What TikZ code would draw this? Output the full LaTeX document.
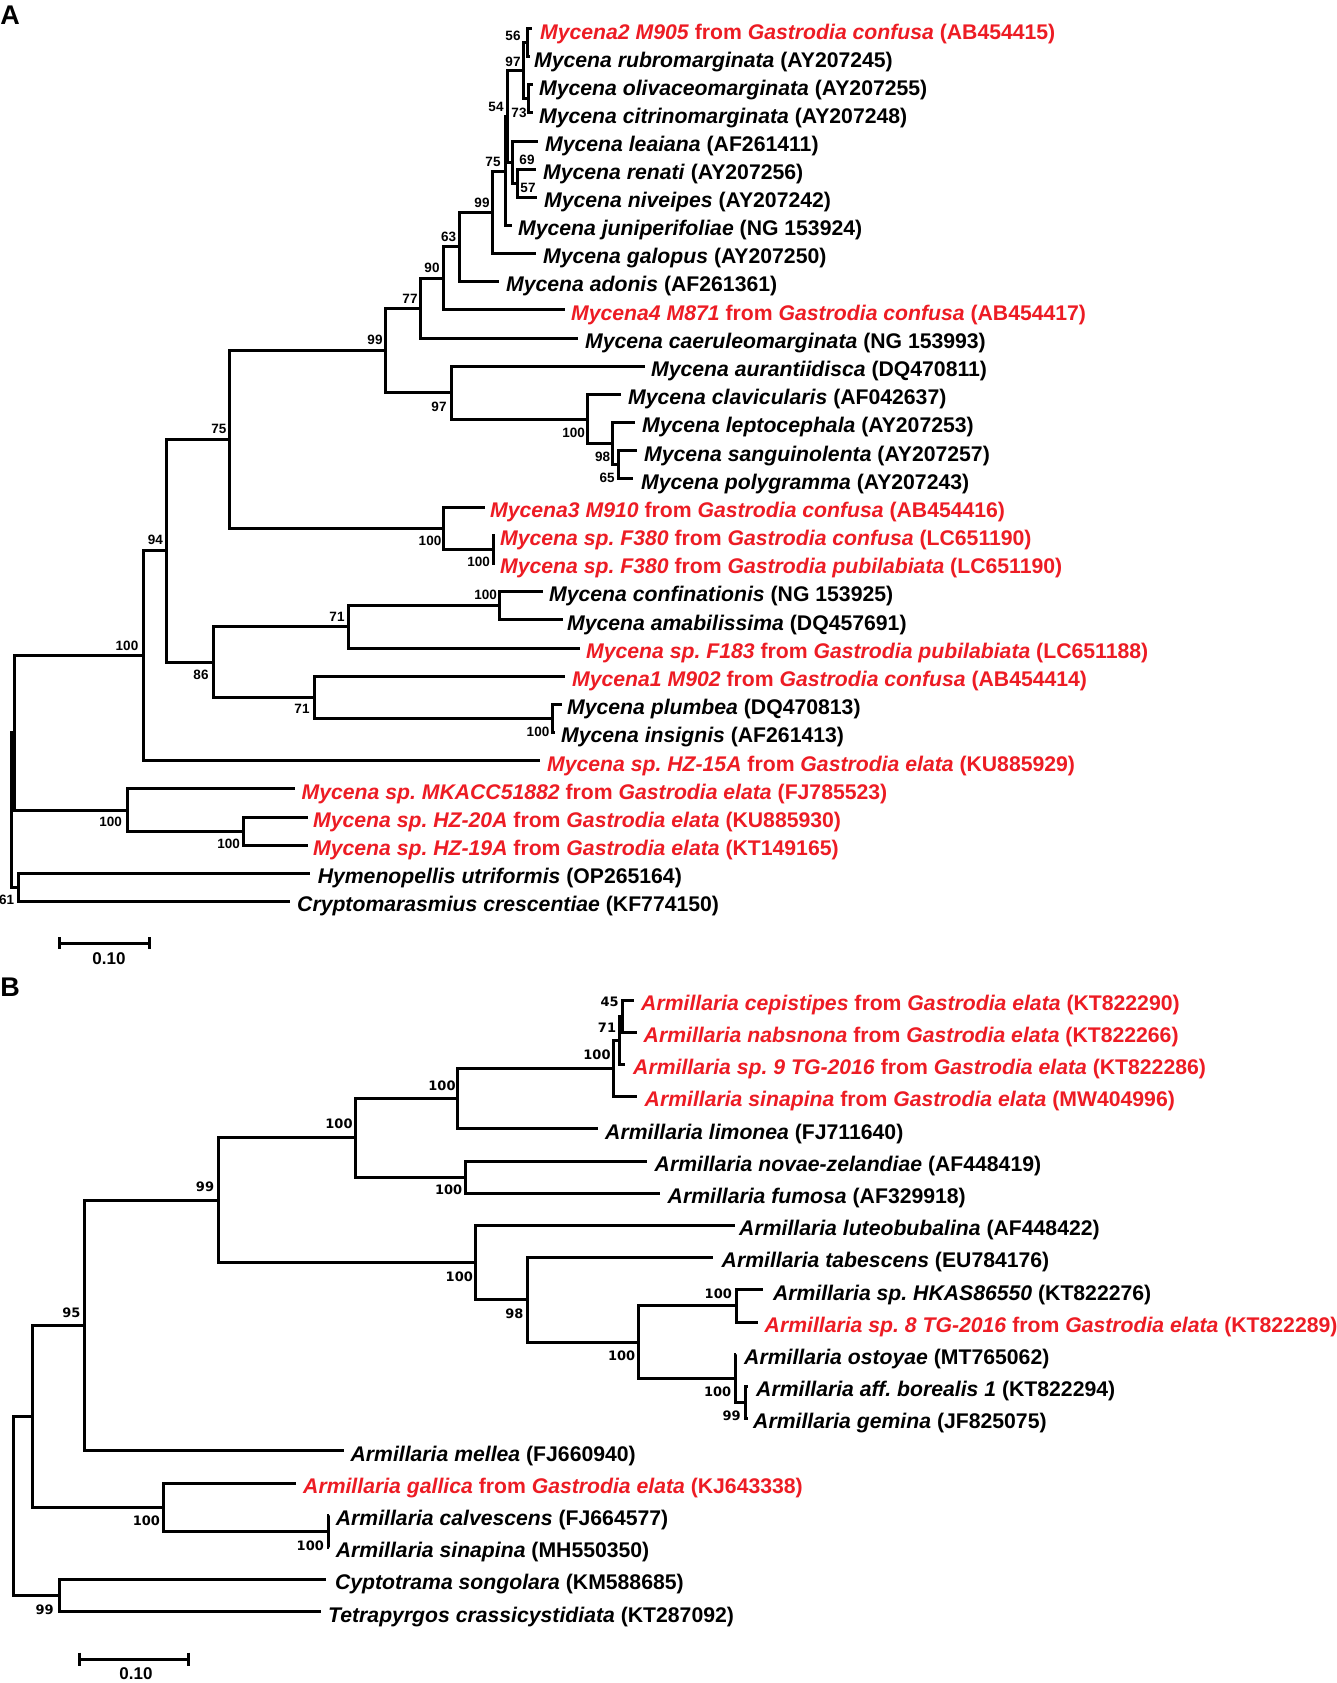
\documentclass[tikz,border=0pt]{standalone}
\usepackage{fontspec}
\setmainfont{Liberation Sans}
\newfontfamily\bsfont{DejaVu Sans}
\usetikzlibrary{calc}
\definecolor{tred}{RGB}{237,28,36}
% [style]{name}{tip x}{text x}{y}{text}
\newcommand\leaf[6][]{\coordinate (#2) at (#3,#5);\node[lbl,#1] (#2t) at (#4,#5+10.3) {#6};}
\newcommand\inode[3]{\coordinate (#1) at (#2,#3);}
\begin{document}
\begin{tikzpicture}[x=1pt,y=-1pt,
  br/.style={line width=3pt},
  lbl/.style={anchor=base west,inner sep=0pt,font=\fontsize{21.2}{25}\selectfont\bfseries},
  hl/.style={text=tred},
  bsa/.style={inner sep=0pt,font=\fontsize{13.5}{15}\selectfont\bfseries},
  bsb/.style={inner sep=0pt,font=\bsfont\fontsize{13}{15}\selectfont\bfseries},
  hdr/.style={inner sep=0pt,font=\fontsize{27}{30}\selectfont\bfseries},
  sclbl/.style={inner sep=0pt,font=\fontsize{17}{19}\selectfont\bfseries}]
\useasboundingbox (0,0) rectangle (1337,1683);
\fill[white] (0,0) rectangle (1337,1683);
\node[hdr] (hA) at (10,15) {A};
\node[hdr] (hB) at (10,987) {B};
% ---------------- Panel A leaves
\leaf[hl]{A1}{531.7}{540}{28.8}{\textit{Mycena2 M905} from \textit{Gastrodia confusa} (AB454415)}
\leaf{A2}{530}{534}{56.9}{\textit{Mycena rubromarginata} (AY207245)}
\leaf{A3}{533}{539}{85.0}{\textit{Mycena olivaceomarginata} (AY207255)}
\leaf{A4}{533}{539}{113.0}{\textit{Mycena citrinomarginata} (AY207248)}
\leaf{A5}{538.3}{545}{141.1}{\textit{Mycena leaiana} (AF261411)}
\leaf{A6}{536}{543}{169.2}{\textit{Mycena renati} (AY207256)}
\leaf{A7}{536.7}{544}{197.3}{\textit{Mycena niveipes} (AY207242)}
\leaf{A8}{511.7}{518}{225.4}{\textit{Mycena juniperifoliae} (NG 153924)}
\leaf{A9}{535.7}{543}{253.5}{\textit{Mycena galopus} (AY207250)}
\leaf{A10}{499}{506}{281.6}{\textit{Mycena adonis} (AF261361)}
\leaf[hl]{A11}{564.7}{571}{309.8}{\textit{Mycena4 M871} from \textit{Gastrodia confusa} (AB454417)}
\leaf{A12}{578}{585}{338.0}{\textit{Mycena caeruleomarginata} (NG 153993)}
\leaf{A13}{645}{651}{366.2}{\textit{Mycena aurantiidisca} (DQ470811)}
\leaf{A14}{621}{628}{394.3}{\textit{Mycena clavicularis} (AF042637)}
\leaf{A15}{635}{642}{422.5}{\textit{Mycena leptocephala} (AY207253)}
\leaf{A16}{637}{644}{450.7}{\textit{Mycena sanguinolenta} (AY207257)}
\leaf{A17}{633}{641}{478.9}{\textit{Mycena polygramma} (AY207243)}
\leaf[hl]{A18}{485}{490}{507.1}{\textit{Mycena3 M910} from \textit{Gastrodia confusa} (AB454416)}
\leaf[hl]{A19}{495}{500}{535.2}{\textit{Mycena sp.\ F380} from \textit{Gastrodia confusa} (LC651190)}
\leaf[hl]{A20}{495}{500}{563.4}{\textit{Mycena sp.\ F380} from \textit{Gastrodia pubilabiata} (LC651190)}
\leaf{A21}{543.3}{549}{591.6}{\textit{Mycena confinationis} (NG 153925)}
\leaf{A22}{563.3}{567}{619.8}{\textit{Mycena amabilissima} (DQ457691)}
\leaf[hl]{A23}{580}{586}{648.0}{\textit{Mycena sp.\ F183} from \textit{Gastrodia pubilabiata} (LC651188)}
\leaf[hl]{A24}{565}{572}{676.1}{\textit{Mycena1 M902} from \textit{Gastrodia confusa} (AB454414)}
\leaf{A25}{561.7}{567}{704.3}{\textit{Mycena plumbea} (DQ470813)}
\leaf{A26}{555}{561}{732.5}{\textit{Mycena insignis} (AF261413)}
\leaf[hl]{A27}{540}{547}{760.7}{\textit{Mycena sp.\ HZ-15A} from \textit{Gastrodia elata} (KU885929)}
\leaf[hl]{A28}{294.6}{301.5}{788.9}{\textit{Mycena sp.\ MKACC51882} from \textit{Gastrodia elata} (FJ785523)}
\leaf[hl]{A29}{308}{313}{817.0}{\textit{Mycena sp.\ HZ-20A} from \textit{Gastrodia elata} (KU885930)}
\leaf[hl]{A30}{308}{313}{845.2}{\textit{Mycena sp.\ HZ-19A} from \textit{Gastrodia elata} (KT149165)}
\leaf{A31}{310}{317.6}{873.4}{\textit{Hymenopellis utriformis} (OP265164)}
\leaf{A32}{290}{297}{901.6}{\textit{Cryptomarasmius crescentiae} (KF774150)}
% ---------------- Panel A internal nodes
\inode{a56}{527.5}{42.85}
\inode{a73}{528.5}{99.0}
\inode{a97}{523.5}{70.9}
\inode{a57}{517}{183.25}
\inode{a69}{512.7}{162.2}
\inode{a54}{507.5}{116.5}
\inode{a75}{505.5}{171}
\inode{a99}{492}{212.25}
\inode{a63}{459}{246.9}
\inode{a90}{443}{278.35}
\inode{a77}{420}{308.15}
\inode{a65}{618.3}{464.8}
\inode{a98}{612}{443.65}
\inode{a100c}{587.3}{419}
\inode{a97b}{451}{392.6}
\inode{a99b}{385.5}{350.4}
\inode{a100e}{493.3}{549.3}
\inode{a100d}{443.5}{528.2}
\inode{a75b}{229}{439.3}
\inode{a100f}{499.5}{605.7}
\inode{a71a}{348}{626.85}
\inode{a100g}{552.7}{718.4}
\inode{a71b}{314}{697.25}
\inode{a86}{213}{662.05}
\inode{a94}{166.5}{550.7}
\inode{a100h}{143}{655.7}
\inode{a100j}{243}{831.1}
\inode{a100i}{127}{810}
\inode{a61}{18.5}{887.5}
\inode{ar1}{14.5}{732.85}
\inode{ar0}{11.5}{810.2}
\foreach \p/\c in {a56/A1,a56/A2,a73/A3,a73/A4,a97/a56,a97/a73,a57/A6,a57/A7,
  a69/A5,a69/a57,a54/a97,a54/a69,a75/a54,a75/A8,a99/a75,a99/A9,a63/a99,a63/A10,
  a90/a63,a90/A11,a77/a90,a77/A12,a65/A16,a65/A17,a98/A15,a98/a65,a100c/A14,a100c/a98,
  a97b/A13,a97b/a100c,a99b/a77,a99b/a97b,a100e/A19,a100e/A20,a100d/A18,a100d/a100e,
  a75b/a99b,a75b/a100d,a100f/A21,a100f/A22,a71a/a100f,a71a/A23,a100g/A25,a100g/A26,
  a71b/A24,a71b/a100g,a86/a71a,a86/a71b,a94/a75b,a94/a86,a100h/a94,a100h/A27,
  a100j/A29,a100j/A30,a100i/A28,a100i/a100j,a61/A31,a61/A32,ar1/a100h,ar1/a100i,
  ar0/ar1,ar0/a61}
  \draw[br] (\p) |- (\c);
% ---------------- Panel A bootstrap values
\node[bsa] (bA1) at (513,36) {56};
\node[bsa] (bA2) at (513,62) {97};
\node[bsa] (bA3) at (496,107) {54};
\node[bsa] (bA4) at (519,113) {73};
\node[bsa] (bA5) at (493,162) {75};
\node[bsa] (bA6) at (527,160) {69};
\node[bsa] (bA7) at (528,188) {57};
\node[bsa] (bA8) at (482,203) {99};
\node[bsa] (bA9) at (448.7,237) {63};
\node[bsa] (bA10) at (432,268) {90};
\node[bsa] (bA11) at (410,299) {77};
\node[bsa] (bA12) at (375,340) {99};
\node[bsa] (bA13) at (439,406.7) {97};
\node[bsa] (bA14) at (573.7,432.7) {100};
\node[bsa] (bA15) at (602.7,456.7) {98};
\node[bsa] (bA16) at (607,478) {65};
\node[bsa] (bA17) at (218.8,429.3) {75};
\node[bsa] (bA18) at (155.4,540) {94};
\node[bsa] (bA19) at (430,540.7) {100};
\node[bsa] (bA20) at (478.6,562.3) {100};
\node[bsa] (bA21) at (485.7,595) {100};
\node[bsa] (bA22) at (337,616.7) {71};
\node[bsa] (bA23) at (127,646) {100};
\node[bsa] (bA24) at (201,675) {86};
\node[bsa] (bA25) at (302,709.3) {71};
\node[bsa] (bA26) at (538,731.7) {100};
\node[bsa] (bA27) at (110.7,821.7) {100};
\node[bsa] (bA28) at (228.6,844.3) {100};
\node[bsa] (bA29) at (6.7,900) {61};
% ---------------- Panel A scale bar
\coordinate (sa1) at (59,943);
\coordinate (sa2) at (149,943);
\draw[br] (sa1) -- (sa2);
\draw[br] ($(sa1)+(0,-6)$) -- ($(sa1)+(0,6)$);
\draw[br] ($(sa2)+(0,-6)$) -- ($(sa2)+(0,6)$);
\node[sclbl] (sal) at (109,959) {0.10};
% ---------------- Panel B leaves
\leaf[hl]{B1}{634}{641}{1000}{\textit{Armillaria cepistipes} from \textit{Gastrodia elata} (KT822290)}
\leaf[hl]{B2}{636.8}{643.5}{1032.2}{\textit{Armillaria nabsnona} from \textit{Gastrodia elata} (KT822266)}
\leaf[hl]{B3}{625.4}{633}{1064.4}{\textit{Armillaria sp.\ 9 TG-2016} from \textit{Gastrodia elata} (KT822286)}
\leaf[hl]{B4}{636.8}{644.5}{1096.6}{\textit{Armillaria sinapina} from \textit{Gastrodia elata} (MW404996)}
\leaf{B5}{598}{605}{1128.8}{\textit{Armillaria limonea} (FJ711640)}
\leaf{B6}{647}{654.5}{1161}{\textit{Armillaria novae-zelandiae} (AF448419)}
\leaf{B7}{660}{667.5}{1193.2}{\textit{Armillaria fumosa} (AF329918)}
\leaf{B8}{735}{739}{1225.4}{\textit{Armillaria luteobubalina} (AF448422)}
\leaf{B9}{713.3}{721.5}{1257.6}{\textit{Armillaria tabescens} (EU784176)}
\leaf{B10}{763.3}{772.8}{1289.8}{\textit{Armillaria sp.\ HKAS86550} (KT822276)}
\leaf[hl]{B11}{758.3}{764.5}{1322}{\textit{Armillaria sp.\ 8 TG-2016} from \textit{Gastrodia elata} (KT822289)}
\leaf{B12}{736}{744}{1354.2}{\textit{Armillaria ostoyae} (MT765062)}
\leaf{B13}{748.3}{756}{1386.4}{\textit{Armillaria aff.\ borealis 1} (KT822294)}
\leaf{B14}{748.3}{753}{1418.6}{\textit{Armillaria gemina} (JF825075)}
\leaf{B15}{343.75}{350.4}{1450.8}{\textit{Armillaria mellea} (FJ660940)}
\leaf[hl]{B16}{295.5}{303}{1483}{\textit{Armillaria gallica} from \textit{Gastrodia elata} (KJ643338)}
\leaf{B17}{329}{335.7}{1515.2}{\textit{Armillaria calvescens} (FJ664577)}
\leaf{B18}{329}{335.7}{1547.4}{\textit{Armillaria sinapina} (MH550350)}
\leaf{B19}{326}{334.8}{1579.6}{\textit{Cyptotrama songolara} (KM588685)}
\leaf{B20}{320.5}{328}{1611.8}{\textit{Tetrapyrgos crassicystidiata} (KT287092)}
% ---------------- Panel B internal nodes
\inode{b45}{622.5}{1016.1}
\inode{b71}{619}{1040.25}
\inode{b100a}{613.5}{1068.4}
\inode{b100b}{457.6}{1098.6}
\inode{b100d}{465}{1177.1}
\inode{b100c}{355}{1137.85}
\inode{b100g}{736}{1305.9}
\inode{b99b}{745}{1402.5}
\inode{b100h}{735}{1378.35}
\inode{b100f}{638.3}{1342.1}
\inode{b98}{527.3}{1299.85}
\inode{b100e}{475}{1262.6}
\inode{b99}{218.75}{1200.2}
\inode{b95}{84.8}{1325.5}
\inode{b100j}{328}{1531.3}
\inode{b100i}{163}{1507.15}
\inode{br1}{32.6}{1416.3}
\inode{b99c}{59.4}{1595.7}
\inode{br0}{13.4}{1506}
\foreach \p/\c in {b45/B1,b45/B2,b71/b45,b71/B3,b100a/b71,b100a/B4,b100b/b100a,b100b/B5,
  b100d/B6,b100d/B7,b100c/b100b,b100c/b100d,b100g/B10,b100g/B11,b99b/B13,b99b/B14,
  b100h/B12,b100h/b99b,b100f/b100g,b100f/b100h,b98/B9,b98/b100f,b100e/B8,b100e/b98,
  b99/b100c,b99/b100e,b95/b99,b95/B15,b100j/B17,b100j/B18,b100i/B16,b100i/b100j,
  br1/b95,br1/b100i,b99c/B19,b99c/B20,br0/br1,br0/b99c}
  \draw[br] (\p) |- (\c);
% ---------------- Panel B bootstrap values
\node[bsb] (bB1) at (609.6,1001.7) {45};
\node[bsb] (bB2) at (607,1027.7) {71};
\node[bsb] (bB3) at (597,1055) {100};
\node[bsb] (bB4) at (442,1086) {100};
\node[bsb] (bB5) at (339,1124) {100};
\node[bsb] (bB6) at (448.7,1190) {100};
\node[bsb] (bB7) at (205,1186.7) {99};
\node[bsb] (bB8) at (459.3,1276.7) {100};
\node[bsb] (bB9) at (514.3,1313.3) {98};
\node[bsb] (bB10) at (621.7,1355.7) {100};
\node[bsb] (bB11) at (718.3,1293.3) {100};
\node[bsb] (bB12) at (717.7,1391.7) {100};
\node[bsb] (bB13) at (731.7,1416) {99};
\node[bsb] (bB14) at (71.4,1312.7) {95};
\node[bsb] (bB15) at (146.4,1520.7) {100};
\node[bsb] (bB16) at (310.3,1546) {100};
\node[bsb] (bB17) at (44.6,1610) {99};
% ---------------- Panel B scale bar
\coordinate (sb1) at (79.5,1659);
\coordinate (sb2) at (188.5,1659);
\draw[br] (sb1) -- (sb2);
\draw[br] ($(sb1)+(0,-6.5)$) -- ($(sb1)+(0,6.5)$);
\draw[br] ($(sb2)+(0,-6.5)$) -- ($(sb2)+(0,6.5)$);
\node[sclbl] (sbl) at (136,1674) {0.10};
\end{tikzpicture}
\end{document}
